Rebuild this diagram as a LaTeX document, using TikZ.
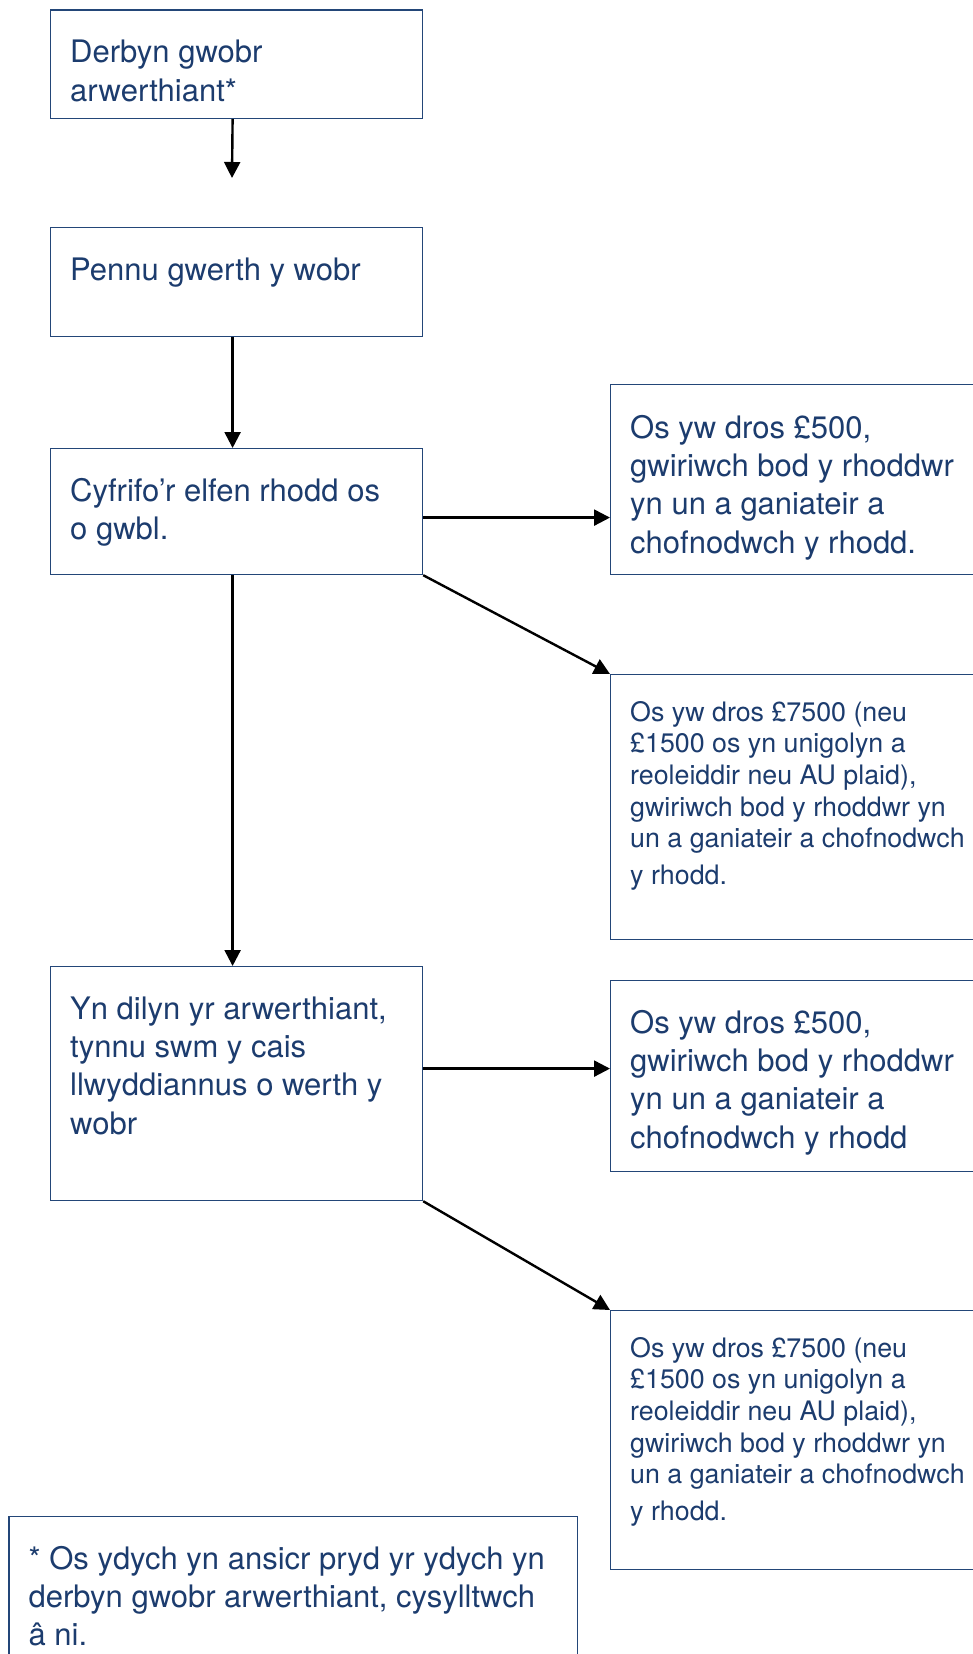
\documentclass[tikz,border=0pt]{standalone}
\usepackage{fontspec}
\setmainfont{TeX Gyre Heros}
\usetikzlibrary{arrows.meta}
\definecolor{txtblue}{RGB}{28,60,110}
\definecolor{boxblue}{RGB}{35,70,120}
\tikzset{
  box/.style={draw=boxblue, line width=1.2pt, rectangle, anchor=north west, inner sep=0pt},
  bigtxt/.style={anchor=north west, inner sep=0pt, align=left, text=txtblue, font=\fontsize{31}{38.3}\selectfont},
  smalltxt/.style={anchor=north west, inner sep=0pt, align=left, text=txtblue, font=\fontsize{26.8}{31.6}\selectfont},
  arr/.style={line width=2.4pt, draw=black, -{Triangle[length=16pt,width=16pt]}}
}
\newcommand{\firstbig}{\rule{0pt}{34pt}}
\newcommand{\firstsmall}{\rule{0pt}{30pt}}
\begin{document}
\begin{tikzpicture}[x=1pt,y=1pt]
\useasboundingbox (0,0) rectangle (973,-1654);
\clip (0,0) rectangle (973,-1654);
\fill[white] (0,0) rectangle (973,-1654);
% left column boxes
\node[box, minimum width=372pt, minimum height=108.5pt] (b1) at (50,-9.5) {};
\node[box, minimum width=372pt, minimum height=109pt] (b2) at (50,-227) {};
\node[box, minimum width=372pt, minimum height=126pt] (b3) at (50,-448) {};
\node[box, minimum width=372pt, minimum height=234pt] (b4) at (50,-966) {};
% right column boxes
\node[box, minimum width=380pt, minimum height=190pt] (bA) at (610,-384) {};
\node[box, minimum width=380pt, minimum height=265pt] (bB) at (610,-674) {};
\node[box, minimum width=380pt, minimum height=191pt] (bC) at (610,-980) {};
\node[box, minimum width=380pt, minimum height=259pt] (bD) at (610,-1310) {};
% footnote box
\node[box, minimum width=568.6pt, minimum height=170pt] (fn) at (8.4,-1516) {};
% texts
\node[bigtxt] (t1) at ([shift={(20,-19)}]b1.north west) {\firstbig Derbyn gwobr\\arwerthiant*};
\node[bigtxt] (t2) at ([shift={(20,-19)}]b2.north west) {\firstbig Pennu gwerth y wobr};
\node[bigtxt] (t3) at ([shift={(20,-19)}]b3.north west) {\firstbig Cyfrifo’r elfen rhodd os\\o gwbl.};
\node[bigtxt] (t4) at ([shift={(20,-19)}]b4.north west) {\firstbig Yn dilyn yr arwerthiant,\\tynnu swm y cais\\llwyddiannus o werth y\\wobr};
\node[bigtxt] (tA) at ([shift={(20,-20)}]bA.north west) {\firstbig Os yw dros £500,\\gwiriwch bod y rhoddwr\\yn un a ganiateir a\\chofnodwch y rhodd.};
\node[smalltxt] (tB) at ([shift={(20,-17)}]bB.north west) {\firstsmall Os yw dros £7500 (neu\\£1500 os yn unigolyn a\\reoleiddir neu AU plaid),\\gwiriwch bod y rhoddwr yn\\un a ganiateir a chofnodwch\\[5pt]y rhodd.};
\node[bigtxt] (tC) at ([shift={(20,-19)}]bC.north west) {\firstbig Os yw dros £500,\\gwiriwch bod y rhoddwr\\yn un a ganiateir a\\chofnodwch y rhodd};
\node[smalltxt] (tD) at ([shift={(20,-17)}]bD.north west) {\firstsmall Os yw dros £7500 (neu\\£1500 os yn unigolyn a\\reoleiddir neu AU plaid),\\gwiriwch bod y rhoddwr yn\\un a ganiateir a chofnodwch\\[5pt]y rhodd.};
\node[bigtxt] (tF) at ([shift={(20,-19)}]fn.north west) {\firstbig * Os ydych yn ansicr pryd yr ydych yn\\derbyn gwobr arwerthiant, cysylltwch\\â ni.};
% connectors
\coordinate (a1end) at (232,-178);
\draw[arr] ([xshift=-4pt]b1.south) -- (a1end);
\draw[arr] ([xshift=-4pt]b2.south) -- ([xshift=-4pt]b3.north);
\draw[arr] ([xshift=-4pt]b3.south) -- ([xshift=-4pt]b4.north);
\draw[arr] ([yshift=-6pt]b3.east) -- ([yshift=-6pt]b3.east -| bA.west);
\draw[arr] (b3.south east) -- (bB.north west);
\draw[arr] ([yshift=15pt]b4.east) -- ([yshift=15pt]b4.east -| bC.west);
\draw[arr] (b4.south east) -- (bD.north west);
\end{tikzpicture}
\end{document}
